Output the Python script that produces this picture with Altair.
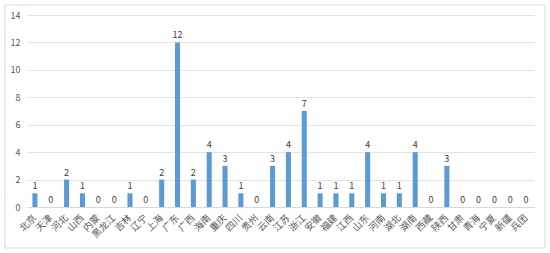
import altair as alt
import pandas as pd

provinces = ["北京", "天津", "河北", "山西", "内蒙", "黑龙江", "吉林", "辽宁", "上海", "广东",
             "广西", "海南", "重庆", "四川", "贵州", "云南", "江苏", "浙江", "安徽", "福建",
             "江西", "山东", "河南", "湖北", "湖南", "西藏", "陕西", "甘肃", "青海", "宁夏",
             "新疆", "兵团"]
counts = [1, 0, 2, 1, 0, 0, 1, 0, 2, 12,
          2, 4, 3, 1, 0, 3, 4, 7, 1, 1,
          1, 4, 1, 1, 4, 0, 3, 0, 0, 0,
          0, 0]
y_ticks = [0, 2, 4, 6, 8, 10, 12, 14]

df = pd.DataFrame({"province": provinces, "count": counts})

FONT = "Noto Sans CJK SC"

x_enc = alt.X("province:N", sort=provinces, title=None,
              scale=alt.Scale(paddingInner=0.68, paddingOuter=0.34),
              axis=alt.Axis(labelAngle=-45, labelAlign="right", labelBaseline="middle",
                            labelFontSize=9.5, labelColor="#595959", labelFont=FONT,
                            ticks=False, domainColor="#D9D9D9", labelPadding=9))
y_enc = alt.Y("count:Q", title=None,
              scale=alt.Scale(domain=[0, 14], nice=False),
              axis=alt.Axis(values=y_ticks, tickCount=8, labelOverlap=False,
                            domain=False, ticks=False,
                            gridColor="#E3E3E3", labelFontSize=9, labelColor="#595959",
                            labelFont=FONT, labelPadding=7))

base = alt.Chart(df)
bars = base.mark_bar(color="#5B9BD5").encode(x=x_enc, y=y_enc)
text = base.mark_text(dy=-7, fontSize=9, color="#404040", font=FONT).encode(
    x=alt.X("province:N", sort=provinces), y="count:Q", text="count:Q")

border = alt.Chart(pd.DataFrame({"a": [0]})).mark_rect(
    fill=None, stroke="#D9D9D9", strokeWidth=1, clip=False).encode(
    x=alt.value(-22), x2=alt.value(518), y=alt.value(-10), y2=alt.value(233))

chart = alt.layer(border, bars, text).properties(
    width=507, height=192,
    autosize=alt.AutoSizeParams(type="none"),
    padding={"left": 27, "top": 15, "right": 16, "bottom": 46},
    background="white",
).configure_view(stroke=None)

chart.save("out.html", embed_options={"renderer": "svg", "actions": False})
